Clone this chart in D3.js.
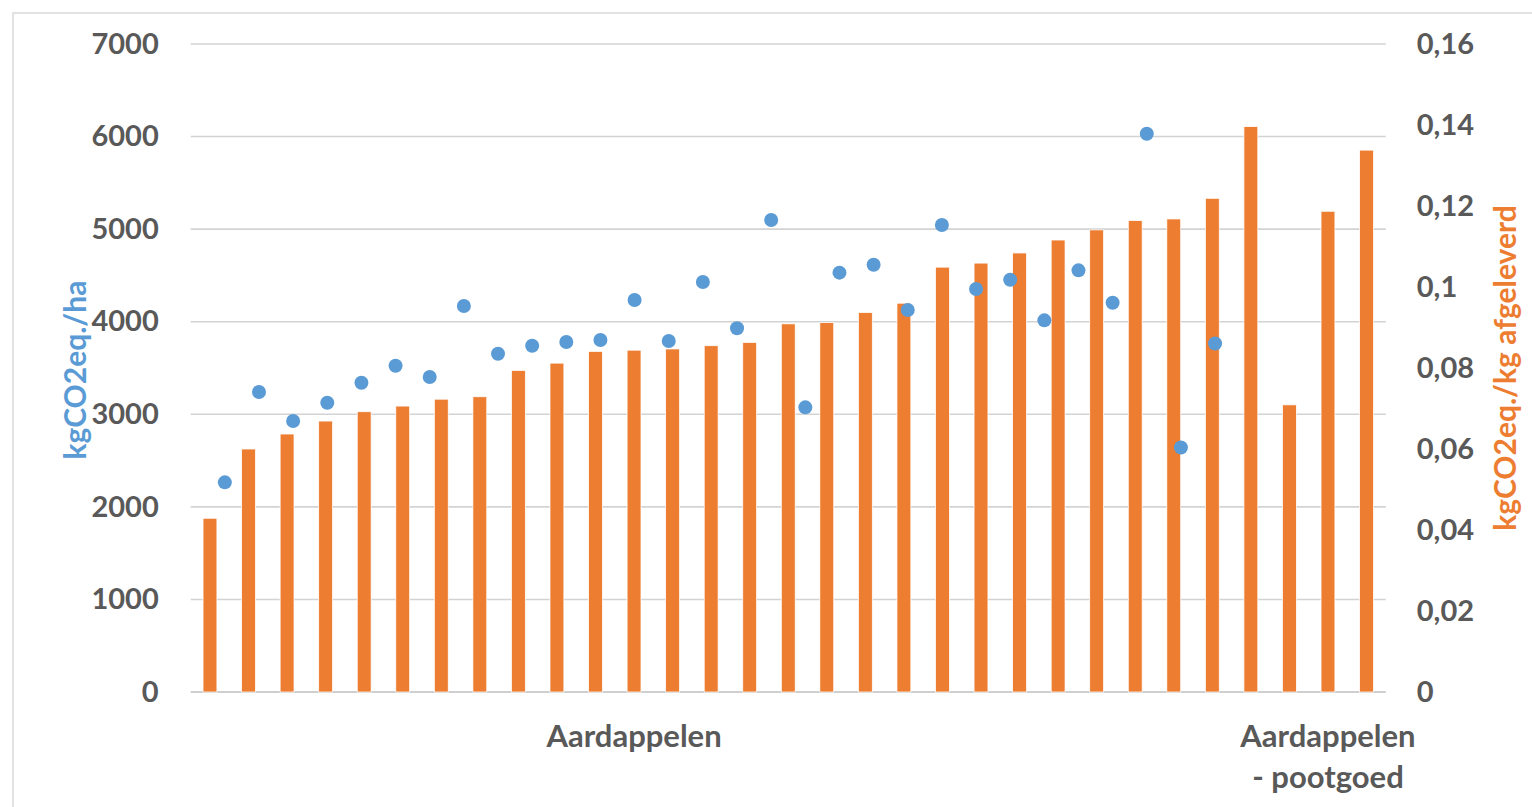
<!DOCTYPE html>
<html>
<head>
<meta charset="utf-8">
<script src="https://cdn.jsdelivr.net/npm/d3@7"></script>
<style>
  html, body { margin: 0; padding: 0; background: #fff; }
  svg { display: block; font-family: Lato, "Open Sans", sans-serif; }
</style>
</head>
<body>
<svg id="chart" width="1532" height="807"></svg>
<script>
// Category labels (most categories are unlabeled)
const categories = [
  "", "", "", "", "", "", "", "", "", "", "",
  "Aardappelen",
  "", "", "", "", "", "", "", "", "", "", "", "", "", "", "", "", "",
  "Aardappelen - pootgoed",
  ""
];

// kgCO2eq. per kg delivered (bars, right axis)
const perKg = [
  0.0429, 0.0600, 0.0637, 0.0669, 0.0692, 0.0706, 0.0723, 0.0729, 0.0794, 0.0812,
  0.0841, 0.0844, 0.0847, 0.0855, 0.0863, 0.0909, 0.0912, 0.0937, 0.0960, 0.1049,
  0.1059, 0.1084, 0.1116, 0.1141, 0.1164, 0.1168, 0.1219, 0.1396, 0.0709, 0.1187,
  0.1338
];

// kgCO2eq. per hectare (dots, left axis), plotted at x = 1..30
const perHa = [
  2265, 3241, 2927, 3125, 3341, 3525, 3403, 4170, 3654, 3741,
  3781, 3802, 4234, 3792, 4429, 3929, 5099, 3075, 4530, 4616,
  4126, 5045, 4353, 4454, 4015, 4555, 4205, 6030, 2642, 3765
];

const leftTicks = [0, 1000, 2000, 3000, 4000, 5000, 6000, 7000];
const rightTicks = [0, 0.02, 0.04, 0.06, 0.08, 0.1, 0.12, 0.14, 0.16];

const leftTitle = "kgCO2eq./ha";
const rightTitle = "kgCO2eq./kg afgeleverd";

const BLUE = "#5B9BD5";
const ORANGE = "#ED7D31";
const TEXT = "#595959";

const svg = d3.select("#chart");
const plot = { left: 190.7, right: 1385.8, top: 44, bottom: 692 };

// outer chart frame
svg.append("rect")
  .attr("x", 13).attr("y", 13).attr("width", 1700).attr("height", 1000)
  .attr("fill", "none").attr("stroke", "#d9d9d9").attr("stroke-width", 1.5);

const x = d3.scaleBand()
  .domain(d3.range(categories.length))
  .range([plot.left, plot.right])
  .paddingInner(0.64).paddingOuter(0.32);

const xs = d3.scaleLinear().domain([0, 35]).range([plot.left, plot.right]);

const yL = d3.scaleLinear().domain([0, 7000]).range([plot.bottom, plot.top]);
const yR = d3.scaleLinear().domain([0, 0.16]).range([plot.bottom, plot.top]);

// gridlines
svg.append("g")
  .selectAll("line")
  .data(leftTicks)
  .join("line")
  .attr("x1", plot.left).attr("x2", plot.right)
  .attr("y1", d => yL(d)).attr("y2", d => yL(d))
  .attr("stroke", d => d === 0 ? "#bfbfbf" : "#d3d3d3")
  .attr("stroke-width", 1.6);

// bars
svg.append("g")
  .selectAll("rect")
  .data(perKg)
  .join("rect")
  .attr("x", (d, i) => x(i))
  .attr("width", x.bandwidth())
  .attr("y", d => yR(d))
  .attr("height", d => plot.bottom - yR(d))
  .attr("fill", ORANGE)
  .attr("stroke", "#fff")
  .attr("stroke-width", 0.75);

// dots
svg.append("g")
  .selectAll("circle")
  .data(perHa)
  .join("circle")
  .attr("cx", (d, i) => xs(i + 1))
  .attr("cy", d => yL(d))
  .attr("r", 7)
  .attr("fill", BLUE);

// left axis labels
const leftAxis = svg.append("g")
  .attr("transform", `translate(${plot.left - 32},0)`)
  .call(d3.axisLeft(yL).tickValues(leftTicks).tickSize(0).tickPadding(0).tickFormat(d3.format("d")));
leftAxis.select(".domain").remove();
leftAxis.selectAll("text")
  .attr("fill", TEXT).attr("font-size", 29).attr("font-weight", "bold")
  .attr("font-family", "Lato, sans-serif");

// right axis labels (comma decimal)
const fmtR = d => d === 0 ? "0" : String(+d.toFixed(2)).replace(".", ",");
const rightAxis = svg.append("g")
  .attr("transform", `translate(${plot.right + 31},0)`)
  .call(d3.axisRight(yR).tickValues(rightTicks).tickSize(0).tickPadding(0).tickFormat(fmtR));
rightAxis.select(".domain").remove();
rightAxis.selectAll("text")
  .attr("fill", TEXT).attr("font-size", 29).attr("font-weight", "bold")
  .attr("font-family", "Lato, sans-serif");

// category labels, wrapped onto lines at " - "
const catG = svg.append("g");
categories.forEach((c, i) => {
  if (!c) return;
  const parts = c.split(" - ");
  const lines = parts.map((p, k) => (k > 0 ? "- " : "") + p);
  const t = catG.append("text")
    .attr("x", x(i) + x.bandwidth() / 2)
    .attr("y", 747)
    .attr("text-anchor", "middle")
    .attr("fill", TEXT).attr("font-size", 31).attr("font-weight", "bold");
  lines.forEach((l, k) => {
    t.append("tspan").attr("x", x(i) + x.bandwidth() / 2).attr("dy", k === 0 ? 0 : 41).text(l);
  });
});

// axis titles
svg.append("text")
  .attr("transform", `translate(86,370) rotate(-90)`)
  .attr("text-anchor", "middle")
  .attr("fill", BLUE).attr("font-size", 30).attr("font-weight", "bold")
  .text(leftTitle);

svg.append("text")
  .attr("transform", `translate(1516,368) rotate(-90)`)
  .attr("text-anchor", "middle")
  .attr("fill", ORANGE).attr("font-size", 30).attr("font-weight", "bold")
  .text(rightTitle);
</script>
</body>
</html>
